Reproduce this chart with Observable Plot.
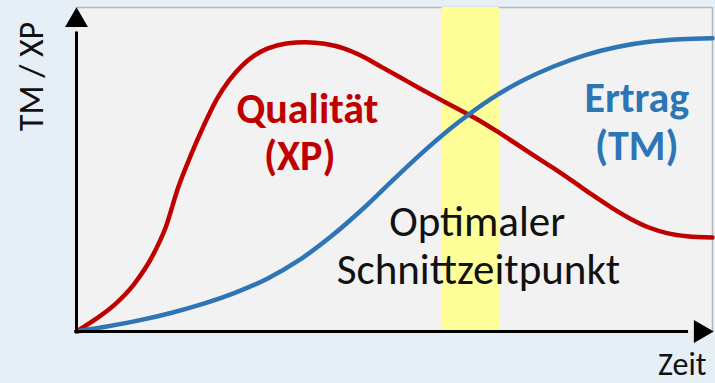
<!DOCTYPE html>
<html><head><meta charset="utf-8">
<script src="https://cdn.jsdelivr.net/npm/d3@7"></script>
<script src="https://cdn.jsdelivr.net/npm/@observablehq/plot@0.6"></script>
<style>
html,body{margin:0;padding:0;background:#e6eef6;overflow:hidden;}
svg{display:block;}
</style></head><body><div id="chart"></div>
<script>
// Qualität (XP) curve: time vs value (0–100 scale)
const xpTime  = [0, 3, 6, 9, 12, 14, 16, 18, 20, 22, 24, 26, 28, 30, 33, 36, 39, 42, 45, 48, 51, 54, 57, 60, 63, 66, 69, 72, 75, 78, 81, 84, 87, 90, 93, 96, 100];
const xpValue = [0, 3.8, 8.3, 14.5, 23.5, 32.0, 44.5, 54.5, 63.5, 71.5, 77.5, 82.0, 85.2, 87.3, 88.9, 89.3, 88.8, 87.4, 84.9, 81.6, 78.3, 75.0, 71.8, 68.7, 65.5, 61.9, 58.1, 54.2, 50.4, 46.4, 42.3, 38.4, 34.9, 32.1, 30.3, 29.4, 29.0];
// Ertrag (TM) curve
const tmTime  = [0, 5, 10, 15, 20, 25, 30, 35, 40, 45, 50, 55, 60, 65, 70, 75, 80, 85, 90, 95, 100];
const tmValue = [0, 1.6, 3.5, 5.8, 8.6, 12.0, 16.3, 22.0, 29.3, 37.8, 47.2, 56.3, 64.5, 71.6, 77.3, 81.8, 85.3, 87.8, 89.4, 90.2, 90.5];
// optimal harvest window (time)
const optimalWindow = [57.5, 66.5];
// texts
const xpLabel = ["Qualität", "(XP)"];
const tmLabel = ["Ertrag", "(TM)"];
const windowLabel = ["Optimaler", "Schnittzeitpunkt"];
const yAxisLabel = "TM / XP";
const xAxisLabel = "Zeit";

const xp = xpTime.map((t, i) => ({t, v: xpValue[i]}));
const tm = tmTime.map((t, i) => ({t, v: tmValue[i]}));

const FONT = "Carlito, Calibri, Lato, sans-serif";
const RED = "#c00000", BLUE = "#2e75b6";

const label = (text, x, y, opts) => Plot.text([text], {x, y, text: d => d, textAnchor: "middle", lineAnchor: "bottom", fontFamily: FONT, ...opts});

const chart = Plot.plot({
  width: 715, height: 383,
  marginLeft: 76, marginRight: 3, marginTop: 7, marginBottom: 52,
  x: {domain: [0, 100], axis: null},
  y: {domain: [0, 100], axis: null},
  style: {background: "transparent", fontFamily: FONT, overflow: "visible"},
  marks: [
    Plot.frame({fill: "#f2f2f2", stroke: null}),
    Plot.ruleY([100], {stroke: "#b8b8b8", strokeWidth: 1.5}),
    Plot.ruleX([100], {y1: 0, y2: 100, stroke: "#b8b8b8", strokeWidth: 1.5}),
    Plot.rect([optimalWindow], {x1: d => d[0], x2: d => d[1], y1: 0, y2: 100, fill: "#ffff99"}),
    Plot.line(xp, {x: "t", y: "v", stroke: RED, strokeWidth: 4.5, curve: "monotone-x"}),
    Plot.line(tm, {x: "t", y: "v", stroke: BLUE, strokeWidth: 4.5, curve: "monotone-x"}),
    label(xpLabel[0], 36.3, 64.5, {fill: RED, fontWeight: "bold", fontSize: 42}),
    label(xpLabel[1], 35.1, 49.7, {fill: RED, fontWeight: "bold", fontSize: 42}),
    label(tmLabel[0], 88.1, 67.6, {fill: BLUE, fontWeight: "bold", fontSize: 42}),
    label(tmLabel[1], 88.1, 52.8, {fill: BLUE, fontWeight: "bold", fontSize: 42}),
    label(windowLabel[0], 63.0, 29.6, {fill: "#111", fontSize: 43}),
    label(windowLabel[1], 63.2, 14.8, {fill: "#111", fontSize: 43}),
    Plot.text([yAxisLabel], {frameAnchor: "top-left", text: d => d, rotate: -90, dx: -34, dy: 69, textAnchor: "middle", lineAnchor: "bottom", fill: "#111", fontSize: 34, fontFamily: FONT}),
    Plot.text([xAxisLabel], {frameAnchor: "bottom-right", text: d => d, dx: -6, dy: 43, textAnchor: "end", lineAnchor: "bottom", fill: "#111", fontSize: 32, fontFamily: FONT}),
    Plot.ruleX([0], {y1: 0, y2: 92, stroke: "black", strokeWidth: 3, strokeLinecap: "square"}),
    Plot.ruleY([0], {x1: 0, x2: 96, stroke: "black", strokeWidth: 3, strokeLinecap: "square"}),
    Plot.dot([0], {x: 0, y: 100, symbol: "triangle", r: 8.5, fill: "black", stroke: null, dy: 13}),
    Plot.dot([0], {x: 100, y: 0, symbol: "triangle", r: 8.5, fill: "black", stroke: null, rotate: 90, dx: -12})
  ]
});
document.getElementById("chart").append(chart);
</script>
</body></html>
